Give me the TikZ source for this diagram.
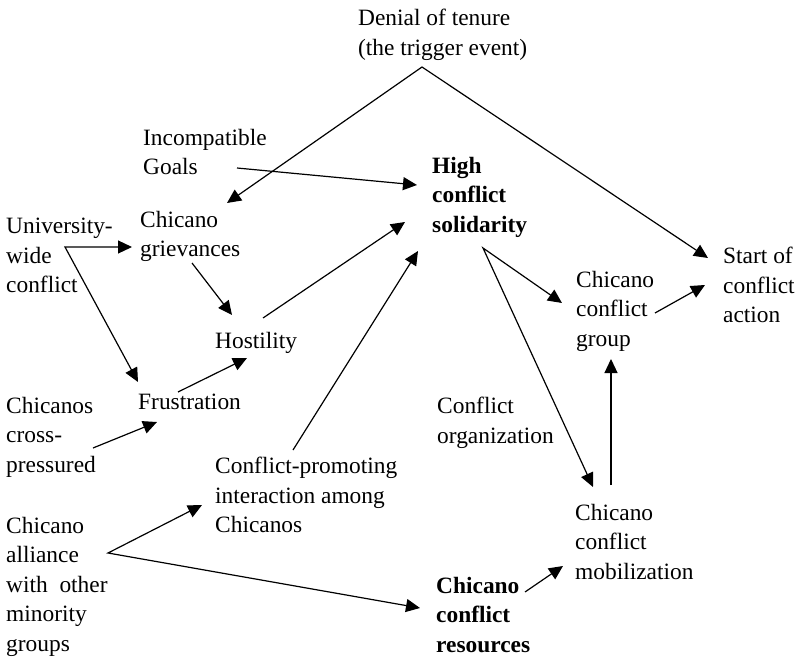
\documentclass[tikz,border=0pt]{standalone}
\usepackage{fontspec}
\setmainfont{Liberation Serif}
\usetikzlibrary{arrows.meta}

\tikzset{
  lbl/.style={anchor=north west, inner sep=0pt, align=left, font=\fontsize{23.4}{29.5}\selectfont},
  boldlbl/.style={lbl, font=\fontsize{23.4}{29.5}\selectfont\bfseries},
  link/.style={line width=1.2pt},
}

\begin{document}
\begin{tikzpicture}[x=1pt, y=-1pt, >={Triangle[length=14pt,width=13pt]}]
\useasboundingbox (0,0) rectangle (804,661);

% labels
\node[lbl] (denial) at (358,9) {Denial of tenure\\(the trigger event)};
\node[lbl] (goals) at (143,129) {Incompatible\\Goals};
\node[boldlbl] (high) at (432,157) {High\\conflict\\solidarity};
\node[lbl] (univ) at (6,218) {University-\\wide\\conflict};
\node[lbl] (grv) at (140,211) {Chicano\\grievances};
\node[lbl] (host) at (215,332) {Hostility};
\node[lbl] (frus) at (138,394) {Frustration};
\node[lbl] (cross) at (6,397) {Chicanos\\cross-\\pressured};
\node[lbl] (promo) at (215,457) {Conflict-promoting\\interaction among\\Chicanos};
\node[lbl] (alli) at (6,517) {Chicano\\alliance\\with\ \ other\\minority\\groups};
\node[boldlbl] (res) at (436,577) {Chicano\\conflict\\resources};
\node[lbl] (mob) at (575,504) {Chicano\\conflict\\mobilization};
\node[lbl] (org) at (437,397) {Conflict\\organization};
\node[lbl] (grp) at (576,271) {Chicano\\conflict\\group};
\node[lbl] (start) at (723,247) {Start of\\conflict\\action};

% trigger event
\draw[link,<->] ([shift={(87,-8)}]grv.north west) -- ([shift={(64,58)}]denial.north west) -- ([shift={(-15,11)}]start.north west);

% left side
\draw[link,->] ([shift={(94,39)}]goals.north west) -- ([shift={(-15,28)}]high.north west);
\draw[link,<->] ([shift={(-8,36)}]grv.north west) -- ([shift={(59,29)}]univ.north west) -- ([shift={(0,-12)}]frus.north west);
\draw[link,->] ([shift={(52,52)}]grv.north west) -- ([shift={(17,-17)}]host.north west);
\draw[link,->] ([shift={(48,-14)}]host.north west) -- ([shift={(-27,65)}]high.north west);
\draw[link,->] ([shift={(40,-2)}]frus.north west) -- ([shift={(32,26)}]host.north west);
\draw[link,->] ([shift={(87,51)}]cross.north west) -- ([shift={(19,28)}]frus.north west);
\draw[link,->] ([shift={(78,-7)}]promo.north west) -- ([shift={(-14,94)}]high.north west);
\draw[link,<->] ([shift={(-13,48)}]promo.north west) -- ([shift={(102,36)}]alli.north west) -- ([shift={(-16,31)}]res.north west);

% right side
\draw[link,<->] ([shift={(-14,32)}]grp.north west) -- ([shift={(51,91)}]high.north west) -- ([shift={(18,-17)}]mob.north west);
\draw[link,->] ([shift={(89,15)}]res.north west) -- ([shift={(-12,62)}]mob.north west);
\draw[link,->] ([shift={(36,-19)}]mob.north west) -- ([shift={(35,88)}]grp.north west);
\draw[link,->] ([shift={(79,42)}]grp.north west) -- ([shift={(-18,38)}]start.north west);
\end{tikzpicture}
\end{document}
